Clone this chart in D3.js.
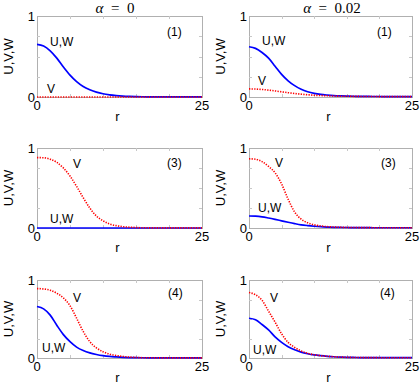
<!DOCTYPE html>
<html>
<head>
<meta charset="utf-8">
<script src="https://cdn.jsdelivr.net/npm/d3@7"></script>
<style>
  body { margin: 0; background: #fff; }
  svg { display: block; }
  .tick-label { font-family: "Liberation Sans", Arial, sans-serif; font-size: 13px; fill: #000; }
  .curve-label { font-family: "Liberation Sans", Arial, sans-serif; font-size: 12px; fill: #000; }
  .title { font-family: "Liberation Serif", "DejaVu Serif", serif; font-size: 15px; fill: #000; }
</style>
</head>
<body>
<svg id="chart" width="420" height="387"></svg>
<script>
// radial grid
var rValues = [0,1,2,3,4,5,6,7,8,9,10,11,12,13,14,15,16,17,18,19,20,21,22,23,24,25];

// (1), alpha = 0
var p1U = [0.65,0.63,0.57,0.48,0.37,0.27,0.19,0.13,0.09,0.06,0.04,0.027,0.018,0.012,0.008,0.005,0.003,0.002,0.001,0.001,0.001,0.001,0.001,0.001,0.001,0.001];
var p1V = [0,0,0,0,0,0,0,0,0,0,0,0,0,0,0,0,0,0,0,0,0,0,0,0,0,0];
// (1), alpha = 0.02
var p2U = [0.62,0.60,0.55,0.48,0.38,0.28,0.20,0.14,0.095,0.065,0.045,0.032,0.024,0.018,0.014,0.011,0.009,0.008,0.007,0.006,0.006,0.005,0.005,0.005,0.005,0.005];
var p2V = [0.10,0.098,0.093,0.085,0.075,0.064,0.053,0.043,0.035,0.028,0.022,0.018,0.015,0.012,0.010,0.009,0.008,0.007,0.006,0.006,0.005,0.005,0.005,0.005,0.005,0.005];
// (3), alpha = 0
var p3U = [0,0,0,0,0,0,0,0,0,0,0,0,0,0,0,0,0,0,0,0,0,0,0,0,0,0];
var p3V = [0.88,0.878,0.86,0.82,0.75,0.65,0.52,0.38,0.25,0.15,0.09,0.05,0.03,0.017,0.01,0.006,0.003,0.002,0.001,0.001,0.001,0.001,0.001,0.001,0.001,0.001];
// (3), alpha = 0.02
var p4U = [0.15,0.148,0.14,0.125,0.108,0.09,0.072,0.055,0.04,0.03,0.022,0.016,0.012,0.009,0.007,0.006,0.005,0.004,0.004,0.003,0.003,0.003,0.003,0.003,0.003,0.003];
var p4V = [0.865,0.86,0.83,0.77,0.69,0.55,0.36,0.20,0.11,0.065,0.04,0.025,0.017,0.012,0.009,0.007,0.006,0.005,0.005,0.004,0.004,0.004,0.004,0.004,0.004,0.004];
// (4), alpha = 0
var p5U = [0.66,0.63,0.55,0.42,0.30,0.21,0.14,0.095,0.065,0.045,0.03,0.02,0.014,0.009,0.006,0.004,0.003,0.002,0.001,0.001,0.001,0.001,0.001,0.001,0.001,0.001];
var p5V = [0.89,0.885,0.87,0.83,0.77,0.67,0.51,0.34,0.21,0.13,0.08,0.05,0.032,0.02,0.012,0.007,0.004,0.003,0.002,0.001,0.001,0.001,0.001,0.001,0.001,0.001];
// (4), alpha = 0.02
var p6U = [0.51,0.49,0.43,0.36,0.27,0.20,0.145,0.105,0.075,0.055,0.04,0.03,0.022,0.016,0.012,0.009,0.007,0.006,0.005,0.005,0.004,0.004,0.004,0.004,0.004,0.004];
var p6V = [0.84,0.81,0.74,0.60,0.46,0.31,0.20,0.135,0.09,0.06,0.042,0.03,0.022,0.016,0.012,0.009,0.007,0.006,0.005,0.005,0.004,0.004,0.004,0.004,0.004,0.004];

var columnTitles = ["\u03b1 = 0", "\u03b1 = 0.02"];
var panelTags = ["(1)", "(1)", "(3)", "(3)", "(4)", "(4)"];
var xTickLabels = [0, 25];
var yTickLabels = [0, 1];

var svg = d3.select("#chart");

var cols = [{x0: 37, x1: 202}, {x0: 249, x1: 412}];
var rows = [{y0: 16, y1: 97}, {y0: 148, y1: 228}, {y0: 280, y1: 358}];

var panels = [
  {row: 0, col: 0, u: p1U, v: p1V, uw: [13, 30], vl: [10, 77], tag: [130, 20]},
  {row: 0, col: 1, u: p2U, v: p2V, uw: [13, 29], vl: [9, 69], tag: [128, 20]},
  {row: 1, col: 0, u: p3U, v: p3V, uw: [13, 75], vl: [36, 20], tag: [130, 19]},
  {row: 1, col: 1, u: p4U, v: p4V, uw: [9, 64], vl: [26, 19], tag: [132, 19]},
  {row: 2, col: 0, u: p5U, v: p5V, uw: [5, 72], vl: [36, 22], tag: [131, 17]},
  {row: 2, col: 1, u: p6U, v: p6V, uw: [4, 74], vl: [21, 22], tag: [131, 17]}
];

panels.forEach(function(p, i) {
  var c = cols[p.col], rw = rows[p.row];
  var x = d3.scaleLinear().domain([0, 25]).range([c.x0, c.x1]);
  var y = d3.scaleLinear().domain([0, 1]).range([rw.y1, rw.y0]);
  var g = svg.append("g");

  // frame
  g.append("rect")
    .attr("x", c.x0 + 0.5).attr("y", rw.y0 + 0.5)
    .attr("width", c.x1 - c.x0).attr("height", rw.y1 - rw.y0)
    .attr("fill", "none").attr("stroke", "#b0b0b0").attr("stroke-width", 1);

  // inward ticks on all sides
  [5, 10, 15, 20].forEach(function(t) {
    var px = Math.round(x(t)) + 0.5;
    g.append("line").attr("x1", px).attr("x2", px).attr("y1", rw.y1).attr("y2", rw.y1 - 3).attr("stroke", "#c8c8c8");
    g.append("line").attr("x1", px).attr("x2", px).attr("y1", rw.y0).attr("y2", rw.y0 + 3).attr("stroke", "#c8c8c8");
  });
  [0.25, 0.5, 0.75].forEach(function(t) {
    var py = Math.round(y(t)) + 0.5;
    g.append("line").attr("x1", c.x0).attr("x2", c.x0 + 3).attr("y1", py).attr("y2", py).attr("stroke", "#c8c8c8");
    g.append("line").attr("x1", c.x1).attr("x2", c.x1 - 3).attr("y1", py).attr("y2", py).attr("stroke", "#c8c8c8");
  });

  var line = d3.line()
    .x(function(d, k) { return x(rValues[k]); })
    .y(function(d) { return y(d); })
    .curve(d3.curveMonotoneX);

  g.append("path").datum(p.u)
    .attr("d", line).attr("fill", "none")
    .attr("stroke", "#0000ff").attr("stroke-width", 1.7);

  g.append("path").datum(p.v)
    .attr("d", line).attr("fill", "none")
    .attr("stroke", "#ff0000").attr("stroke-width", 1.6)
    .attr("stroke-dasharray", "1.3,1.3");

  // tick labels
  g.selectAll(".xl").data(xTickLabels).enter().append("text")
    .attr("class", "tick-label")
    .attr("x", function(d) { return x(d); })
    .attr("y", rw.y1 + 13)
    .attr("text-anchor", "middle")
    .text(function(d) { return d; });

  g.selectAll(".yl").data(yTickLabels).enter().append("text")
    .attr("class", "tick-label")
    .attr("x", c.x0 - 2)
    .attr("y", function(d) { return y(d) + 5; })
    .attr("text-anchor", "end")
    .text(function(d) { return d; });

  // axis titles
  g.append("text").attr("class", "tick-label")
    .attr("x", (c.x0 + c.x1) / 2 - 2).attr("y", rw.y1 + 24)
    .attr("text-anchor", "middle").text("r");

  g.append("text").attr("class", "tick-label")
    .attr("transform", "translate(" + (c.x0 - 24) + "," + ((rw.y0 + rw.y1) / 2) + ") rotate(-90)")
    .attr("text-anchor", "middle").text("U,V,W");

  // curve labels
  g.append("text").attr("class", "curve-label")
    .attr("x", c.x0 + p.uw[0]).attr("y", rw.y0 + p.uw[1]).text("U,W");
  g.append("text").attr("class", "curve-label")
    .attr("x", c.x0 + p.vl[0]).attr("y", rw.y0 + p.vl[1]).text("V");
  g.append("text").attr("class", "curve-label")
    .attr("x", c.x0 + p.tag[0]).attr("y", rw.y0 + p.tag[1]).text(panelTags[i]);

  if (p.row === 0) {
    var t = g.append("text").attr("class", "title")
      .attr("x", p.col === 0 ? 115 : 332).attr("y", 13)
      .attr("text-anchor", "middle");
    var parts = columnTitles[p.col].split(" = ");
    t.append("tspan").style("font-style", "italic").text(parts[0]);
    t.append("tspan").text("\u2002=\u2002" + parts[1]);
  }
});
</script>
</body>
</html>
